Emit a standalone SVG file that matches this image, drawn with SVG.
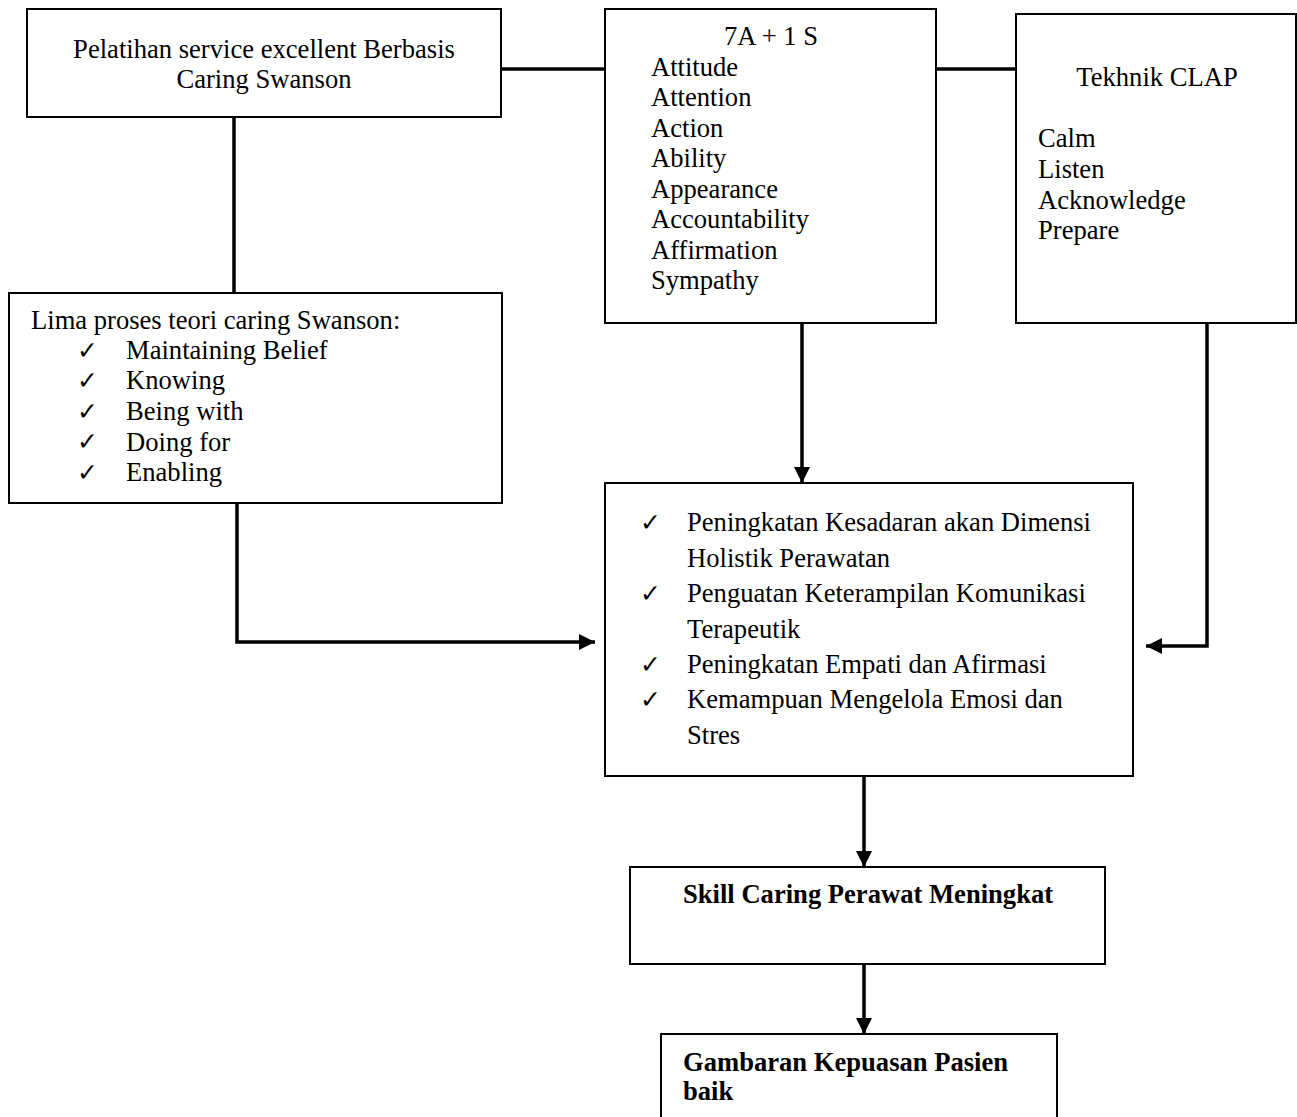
<svg xmlns="http://www.w3.org/2000/svg" width="1297" height="1117" viewBox="0 0 1297 1117">
<style>
.box{fill:#fff;stroke:#000;stroke-width:2}
.t{font-family:"Liberation Serif","Times New Roman",serif;font-size:26.6px;fill:#000}
.b{font-weight:bold}
.c{text-anchor:middle}
.ck{font-family:"DejaVu Sans",sans-serif;font-size:25px;fill:#000}
.con{fill:none;stroke:#000;stroke-width:3.5}
</style>
<defs>
<marker id="ah" viewBox="0 0 16 16" markerWidth="16" markerHeight="16" refX="16" refY="8" orient="auto" markerUnits="userSpaceOnUse">
<path d="M0,0 L16,8 L0,16 z" fill="#000"/>
</marker>
</defs>
<rect width="1297" height="1117" fill="#fff"/>
<g id="connectors">
<path class="con" d="M501,69 H605"/>
<path class="con" d="M936,69 H1016"/>
<path class="con" d="M234,117 V293"/>
<path class="con" d="M237,503 V642 H595" marker-end="url(#ah)"/>
<path class="con" d="M802,323 V483" marker-end="url(#ah)"/>
<path class="con" d="M1207,323 V646 H1146" marker-end="url(#ah)"/>
<path class="con" d="M864,776 V867" marker-end="url(#ah)"/>
<path class="con" d="M864,964 V1034" marker-end="url(#ah)"/>
</g>
<g id="node-pelatihan">
<rect class="box" x="27" y="9" width="474" height="108"/>
<text class="t c" x="264" y="58">Pelatihan service excellent Berbasis</text>
<text class="t c" x="264" y="88">Caring Swanson</text>
</g>
<g id="node-7a1s">
<rect class="box" x="605" y="9" width="331" height="314"/>
<text class="t c" x="771" y="45">7A + 1 S</text>
<text class="t" x="651" y="75.5">Attitude</text>
<text class="t" x="651" y="106">Attention</text>
<text class="t" x="651" y="136.5">Action</text>
<text class="t" x="651" y="167">Ability</text>
<text class="t" x="651" y="197.5">Appearance</text>
<text class="t" x="651" y="228">Accountability</text>
<text class="t" x="651" y="258.5">Affirmation</text>
<text class="t" x="651" y="289">Sympathy</text>
</g>
<g id="node-clap">
<rect class="box" x="1016" y="14" width="280" height="309"/>
<text class="t c" x="1157" y="86">Tekhnik CLAP</text>
<text class="t" x="1038" y="147">Calm</text>
<text class="t" x="1038" y="178">Listen</text>
<text class="t" x="1038" y="208.5">Acknowledge</text>
<text class="t" x="1038" y="239">Prepare</text>
</g>
<g id="node-lima">
<rect class="box" x="9" y="293" width="493" height="210"/>
<text class="t" x="31" y="329">Lima proses teori caring Swanson:</text>
<text class="ck" x="77" y="359">✓</text>
<text class="t" x="126" y="359">Maintaining Belief</text>
<text class="ck" x="77" y="389">✓</text>
<text class="t" x="126" y="389">Knowing</text>
<text class="ck" x="77" y="420">✓</text>
<text class="t" x="126" y="420">Being with</text>
<text class="ck" x="77" y="450">✓</text>
<text class="t" x="126" y="450.5">Doing for</text>
<text class="ck" x="77" y="481">✓</text>
<text class="t" x="126" y="481">Enabling</text>
</g>
<g id="node-outcomes">
<rect class="box" x="605" y="483" width="528" height="293"/>
<text class="ck" x="640" y="531">✓</text>
<text class="t" x="687" y="531">Peningkatan Kesadaran akan Dimensi</text>
<text class="t" x="687" y="566.5">Holistik Perawatan</text>
<text class="ck" x="640" y="602">✓</text>
<text class="t" x="687" y="602">Penguatan Keterampilan Komunikasi</text>
<text class="t" x="687" y="637.5">Terapeutik</text>
<text class="ck" x="640" y="673">✓</text>
<text class="t" x="687" y="673">Peningkatan Empati dan Afirmasi</text>
<text class="ck" x="640" y="708">✓</text>
<text class="t" x="687" y="708">Kemampuan Mengelola Emosi dan</text>
<text class="t" x="687" y="743.5">Stres</text>
</g>
<g id="node-skill">
<rect class="box" x="630" y="867" width="475" height="97"/>
<text class="t b" x="683" y="903">Skill Caring Perawat Meningkat</text>
</g>
<g id="node-gambaran">
<rect class="box" x="661" y="1034" width="396" height="100"/>
<text class="t b" x="683" y="1071">Gambaran Kepuasan Pasien</text>
<text class="t b" x="683" y="1100">baik</text>
</g>
</svg>
